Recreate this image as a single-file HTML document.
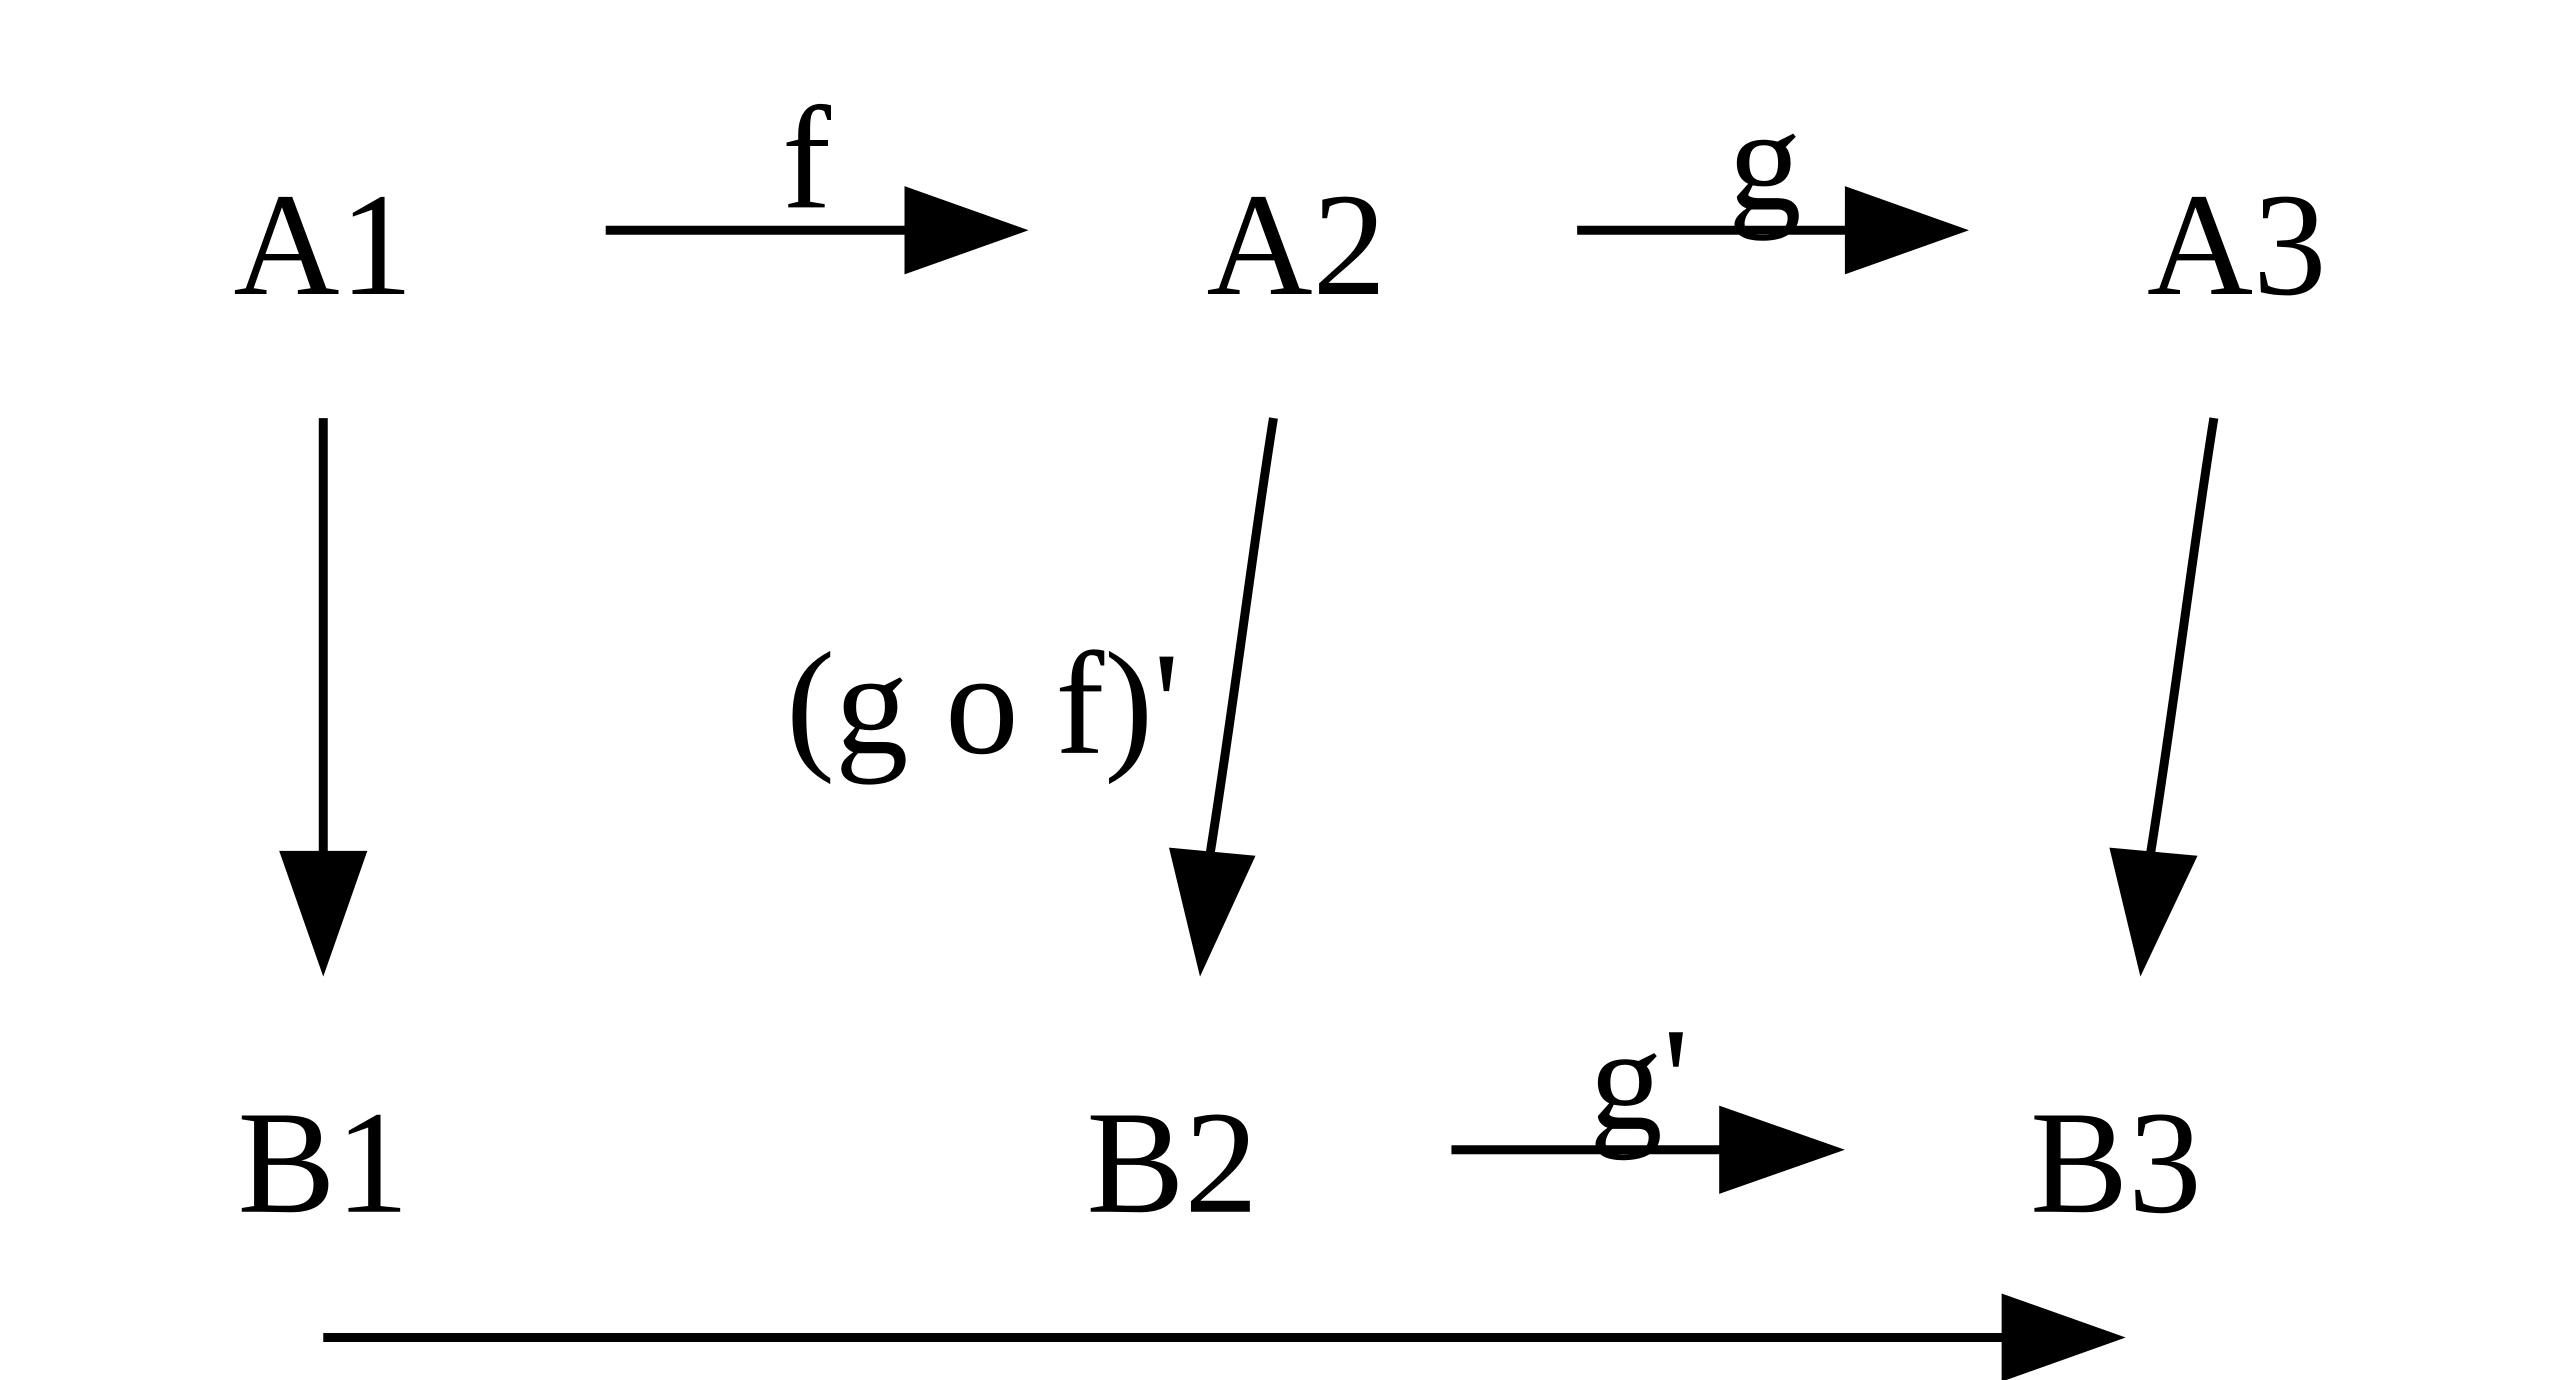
<!DOCTYPE html>
<html><head><meta charset="utf-8"><style>html,body{margin:0;padding:0;background:#fff;overflow:hidden}svg{display:block}</style></head>
<body>
<svg width="2560" height="1380" viewBox="0 0 1568 845" preserveAspectRatio="none" xmlns="http://www.w3.org/2000/svg">
<g font-family="Liberation Serif, serif" font-size="90" text-anchor="middle" fill="#000">
<text x="198" y="180">A1</text>
<text x="794" y="180">A2</text>
<text x="1370" y="180">A3</text>
<text x="198" y="742">B1</text>
<text x="718" y="742">B2</text>
<text x="1296" y="742">B3</text>
<text x="494" y="127">f</text>
<text x="1081" y="128">g</text>
<text x="1004" y="691">g'</text>
<text x="602" y="461">(g o f)'</text>
</g>
<g stroke="#000" stroke-width="5.5" fill="none">
<line x1="371" y1="141" x2="556" y2="141"/>
<line x1="966" y1="141" x2="1132" y2="141"/>
<line x1="198" y1="256" x2="198" y2="524"/>
<path d="M780,256 C768,330 756,430 741,524"/>
<path d="M1356,256 C1344,330 1332,430 1317,524"/>
<line x1="889" y1="704" x2="1055" y2="704"/>
<line x1="198" y1="819" x2="1228" y2="819"/>
</g>
<g fill="#000">
<polygon points="554,114 630,141 554,168"/>
<polygon points="1130,114 1206,141 1130,168"/>
<polygon points="171,521 198,598 225,521"/>
<polygon points="716,519 735,598 769,524"/>
<polygon points="1292,519 1311,598 1346,524"/>
<polygon points="1053,677 1130,704 1053,731"/>
<polygon points="1226,792 1302,819 1226,846"/>
</g>
</svg>
</body></html>
